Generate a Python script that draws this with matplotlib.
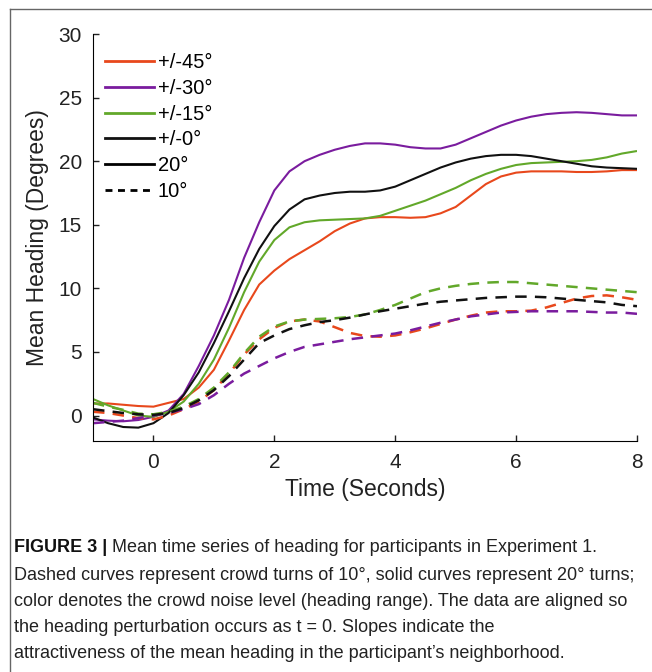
import numpy as np
import matplotlib
matplotlib.use("Agg")
import matplotlib.pyplot as plt
from matplotlib.lines import Line2D

plt.rcParams['font.family'] = ['Liberation Sans', 'DejaVu Sans']

# time axis (seconds), one sample every 0.25 s
time = np.arange(-1, 8.01, 0.25)

# 20 degree crowd turns (solid)
r20 = [0.95, 0.95, 0.85, 0.75, 0.7, 1.0, 1.3, 2.2, 3.6, 5.9, 8.3, 10.3, 11.4, 12.3, 13.0, 13.7, 14.5,
       15.1, 15.5, 15.6, 15.6, 15.55, 15.6, 15.9, 16.4, 17.3, 18.2, 18.8, 19.1, 19.2, 19.2, 19.2,
       19.15, 19.15, 19.2, 19.3, 19.3]
p20 = [-0.3, -0.4, -0.45, -0.35, -0.1, 0.4, 1.7, 3.9, 6.3, 9.1, 12.4, 15.2, 17.7, 19.2, 20.0, 20.5,
       20.9, 21.2, 21.4, 21.4, 21.3, 21.1, 21.0, 21.0, 21.3, 21.8, 22.3, 22.8, 23.2, 23.5, 23.7,
       23.8, 23.85, 23.8, 23.7, 23.6, 23.6]
g20 = [1.3, 0.8, 0.4, 0.0, -0.1, 0.3, 1.1, 2.5, 4.4, 6.9, 9.7, 12.1, 13.8, 14.8, 15.2, 15.35, 15.4,
       15.45, 15.5, 15.7, 16.1, 16.5, 16.9, 17.4, 17.9, 18.5, 19.0, 19.4, 19.7, 19.85, 19.9, 19.95,
       20.0, 20.1, 20.3, 20.6, 20.8]
k20 = [-0.15, -0.6, -0.9, -0.95, -0.6, 0.2, 1.6, 3.4, 5.7, 8.2, 10.8, 13.1, 14.9, 16.2, 17.0, 17.3,
       17.5, 17.6, 17.6, 17.7, 18.0, 18.5, 19.0, 19.5, 19.9, 20.2, 20.4, 20.5, 20.5, 20.4, 20.2,
       20.0, 19.8, 19.6, 19.5, 19.45, 19.4]

# 10 degree crowd turns (dashed)
r10 = [0.3, 0.2, 0.0, -0.2, -0.3, 0.0, 0.5, 1.1, 2.0, 3.3, 4.8, 6.0, 6.9, 7.4, 7.55, 7.4, 6.95,
       6.5, 6.25, 6.2, 6.3, 6.55, 6.85, 7.2, 7.55, 7.85, 8.1, 8.2, 8.2, 8.25, 8.5, 8.85, 9.2, 9.4,
       9.45, 9.3, 9.1]
p10 = [-0.6, -0.5, -0.4, -0.2, 0.0, 0.2, 0.5, 0.9, 1.6, 2.5, 3.3, 3.9, 4.5, 5.0, 5.4, 5.6, 5.8,
       6.0, 6.15, 6.3, 6.45, 6.7, 7.0, 7.3, 7.55, 7.8, 7.95, 8.1, 8.15, 8.2, 8.2, 8.2, 8.2, 8.15,
       8.1, 8.1, 8.0]
g10 = [1.0, 0.7, 0.45, 0.15, 0.1, 0.3, 0.7, 1.3, 2.2, 3.4, 4.9, 6.2, 7.0, 7.4, 7.55, 7.6, 7.65,
       7.75, 7.95, 8.3, 8.7, 9.2, 9.7, 10.0, 10.2, 10.35, 10.45, 10.5, 10.5, 10.4, 10.3, 10.2, 10.1,
       10.0, 9.9, 9.8, 9.7]
k10 = [0.5, 0.35, 0.2, 0.1, 0.05, 0.2, 0.6, 1.2, 2.0, 3.1, 4.4, 5.7, 6.3, 6.8, 7.1, 7.35, 7.5,
       7.7, 7.95, 8.2, 8.4, 8.6, 8.8, 8.95, 9.05, 9.15, 9.25, 9.3, 9.35, 9.35, 9.3, 9.2, 9.1, 9.0,
       8.9, 8.7, 8.6]

noise_labels = ["+/-45°", "+/-30°", "+/-15°", "+/-0°"]
turn_labels = ["20°", "10°"]
colors = ["#e8481c", "#7a1c9e", "#62a82a", "#111111"]

caption_bold = "FIGURE 3 |"
caption_lines = [
    " Mean time series of heading for participants in Experiment 1.",
    "Dashed curves represent crowd turns of 10°, solid curves represent 20° turns;",
    "color denotes the crowd noise level (heading range). The data are aligned so",
    "the heading perturbation occurs as t = 0. Slopes indicate the",
    "attractiveness of the mean heading in the participant’s neighborhood.",
]

fig = plt.figure(figsize=(6.52, 6.72), dpi=100)
ax = fig.add_axes([93 / 652, 1 - 441 / 672, 544 / 652, 407 / 672])

dash = (4.6, 3.3)
for ys, c in zip([r20, p20, g20, k20], colors):
    ax.plot(time, ys, color=c, lw=1.5, solid_capstyle="butt")
for ys, c in zip([r10, p10, g10, k10], colors):
    ax.plot(time, ys, color=c, lw=1.8, linestyle=(0, dash))

ax.set_xlim(-1, 8)
ax.set_ylim(-2, 30)
ax.set_xticks([0, 2, 4, 6, 8])
ax.set_yticks(range(0, 31, 5))
for s in ["top", "right"]:
    ax.spines[s].set_visible(False)
ax.tick_params(direction="in", length=4, width=1, labelsize=15, colors="#222222")
ax.tick_params(axis="x", pad=9)
ax.tick_params(axis="y", pad=8)
ax.set_xlabel("Time (Seconds)", fontsize=16.5, color="#222222", labelpad=4)
ax.set_ylabel("Mean Heading (Degrees)", fontsize=16.5, color="#222222", labelpad=7)

handles = [Line2D([], [], color=c, lw=2) for c in colors]
handles.append(Line2D([], [], color="black", lw=2))
handles.append(Line2D([], [], color="black", lw=2, linestyle=(0, (2.5, 2))))
ax.legend(handles, noise_labels + turn_labels, loc="upper left", frameon=False,
          fontsize=14.5, handlelength=2.4, handletextpad=0.2, labelspacing=0.33,
          borderaxespad=0.0, bbox_to_anchor=(0.008, 0.972))

# figure border (open on right and bottom)
fig.add_artist(Line2D([9.5 / 652, 9.5 / 652], [0, 1 - 8.5 / 672], color="#666666", lw=1))
fig.add_artist(Line2D([9.5 / 652, 1], [1 - 8.5 / 672, 1 - 8.5 / 672], color="#666666", lw=1))

cap_font = ['Liberation Sans', 'DejaVu Sans']
cap_size = 13.0
x0 = 14 / 652
ys_cap = [548, 575, 601, 627, 654]
t_bold = fig.text(x0, 1 - ys_cap[0] / 672, caption_bold, fontsize=cap_size, fontweight="bold",
                  family=cap_font, va="center", color="#111111")
fig.canvas.draw()
bb = t_bold.get_window_extent()
fig.text(bb.x1 / 652, 1 - ys_cap[0] / 672, caption_lines[0], fontsize=cap_size, family=cap_font,
         va="center", color="#222222")
for line, yy in zip(caption_lines[1:], ys_cap[1:]):
    fig.text(x0, 1 - yy / 672, line, fontsize=cap_size, family=cap_font, va="center", color="#222222")

fig.savefig("out.png", dpi=100)
